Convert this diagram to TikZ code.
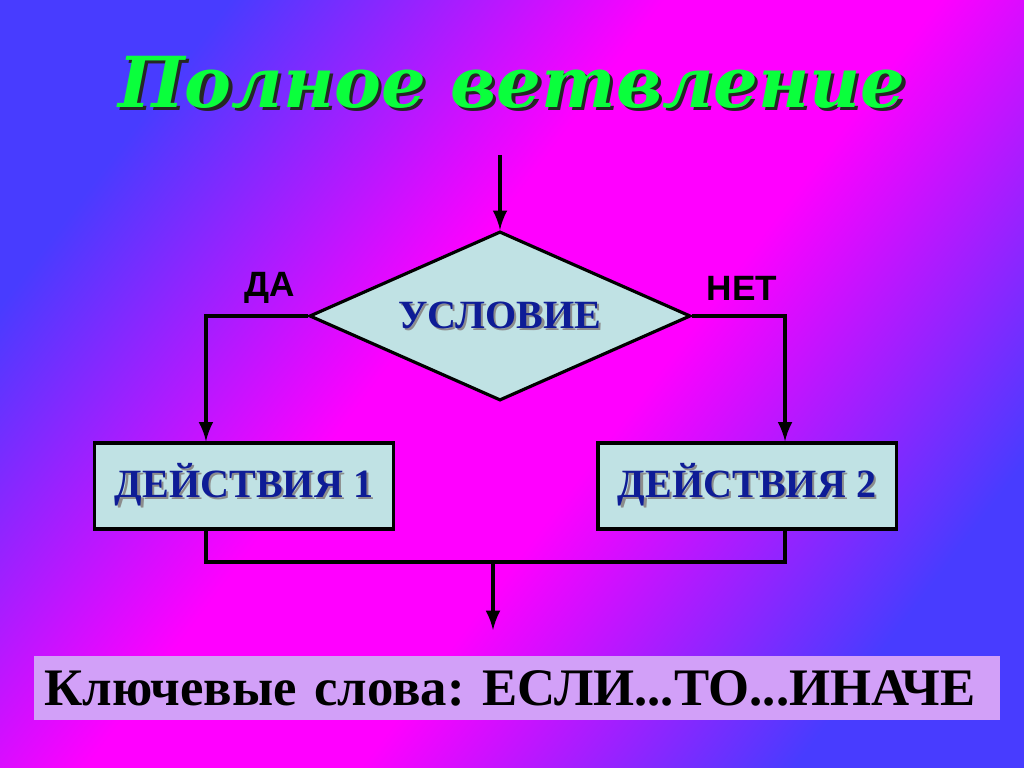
\documentclass[tikz,border=0pt]{standalone}
\usepackage{fontspec}
\setmainfont{Liberation Serif}
\setsansfont{Liberation Sans}
\newfontfamily\titlefont{DejaVu Serif}
\usepackage{tikz}
\usetikzlibrary{shapes.geometric}
\usetikzlibrary{positioning}
\usepgflibrary{arrows}

\definecolor{bgblue}{RGB}{72,60,255}
\definecolor{bgmag}{RGB}{255,0,255}
\definecolor{boxfill}{RGB}{192,226,228}
\definecolor{boxtext}{RGB}{14,28,150}
\definecolor{keyfill}{RGB}{210,160,248}
\definecolor{titlegreen}{RGB}{10,255,60}

\pgfdeclarehorizontalshading{bgshade}{100bp}{color(0bp)=(bgblue); color(25bp)=(bgblue); color(44bp)=(bgmag); color(56bp)=(bgmag); color(75bp)=(bgblue); color(100bp)=(bgblue)}

% text with a drop shadow behind it
\newcommand{\shtext}[3]{\makebox[0pt][l]{\hspace{#1}\raisebox{-#1}{\color{#2}#3}}#3}

\begin{document}
\frenchspacing
\begin{tikzpicture}[x=0.01cm, y=-0.01cm, line width=0.9pt, draw=black]
		\tikzset{>=latex}
		\tikzstyle{block}=[rectangle, draw=black, fill=boxfill, text=boxtext, minimum width=2.98cm, minimum height=0.86cm, inner sep=0pt, font=\fontsize{11.4}{14}\selectfont\bfseries]
		\tikzstyle{answer}=[font=\sffamily\bfseries\fontsize{10}{12}\selectfont, text=black]

		\shade[shading=bgshade, shading angle=-37] (0,0) rectangle (1024,768);
		\useasboundingbox (0,0) rectangle (1024,768);

		\node[text=titlegreen, font=\titlefont\bfseries\itshape\fontsize{20}{24}\selectfont, inner sep=0pt] (title) at (512,84) {\shtext{0.9pt}{black!85}{Полное ветвление}};

		\coordinate (top) at (500,155);
		\node[diamond, draw=black, fill=boxfill, text=boxtext, aspect=2.25, inner sep=0pt, minimum width=3.81cm, minimum height=1.69cm, font=\fontsize{11.4}{14}\selectfont\bfseries] (cond) at (500,316) {\shtext{0.6pt}{black!45}{УСЛОВИЕ}};
		\node[answer] (yes) at (270,288) {ДА};
		\node[answer] (no) at (742,288) {НЕТ};

		\node[block] (act1) at (244,486) {\shtext{0.6pt}{black!45}{ДЕЙСТВИЯ 1}};
		\node[block] (act2) at (747,486) {\shtext{0.6pt}{black!45}{ДЕЙСТВИЯ 2}};

		\coordinate (join) at (493,562);
		\coordinate (out) at (493,630);

		\draw[->] (top) -- (cond.north);
		\draw[->] (cond.west) -| ([xshift=-0.38cm]act1.north);
		\draw[->] (cond.east) -| ([xshift=0.38cm]act2.north);
		\draw ([xshift=-0.38cm]act1.south) |- (join) -| ([xshift=0.38cm]act2.south);
		\draw[->] (join) -- (out);

		\node[fill=keyfill, text=black, text width=9.45cm, align=left, inner xsep=0.1cm, minimum height=0.63cm, font=\fontsize{15}{18}\selectfont\bfseries] (keywords) at (517,688) {Ключевые слова: ЕСЛИ...ТО...ИНАЧЕ};
\end{tikzpicture}
\end{document}
